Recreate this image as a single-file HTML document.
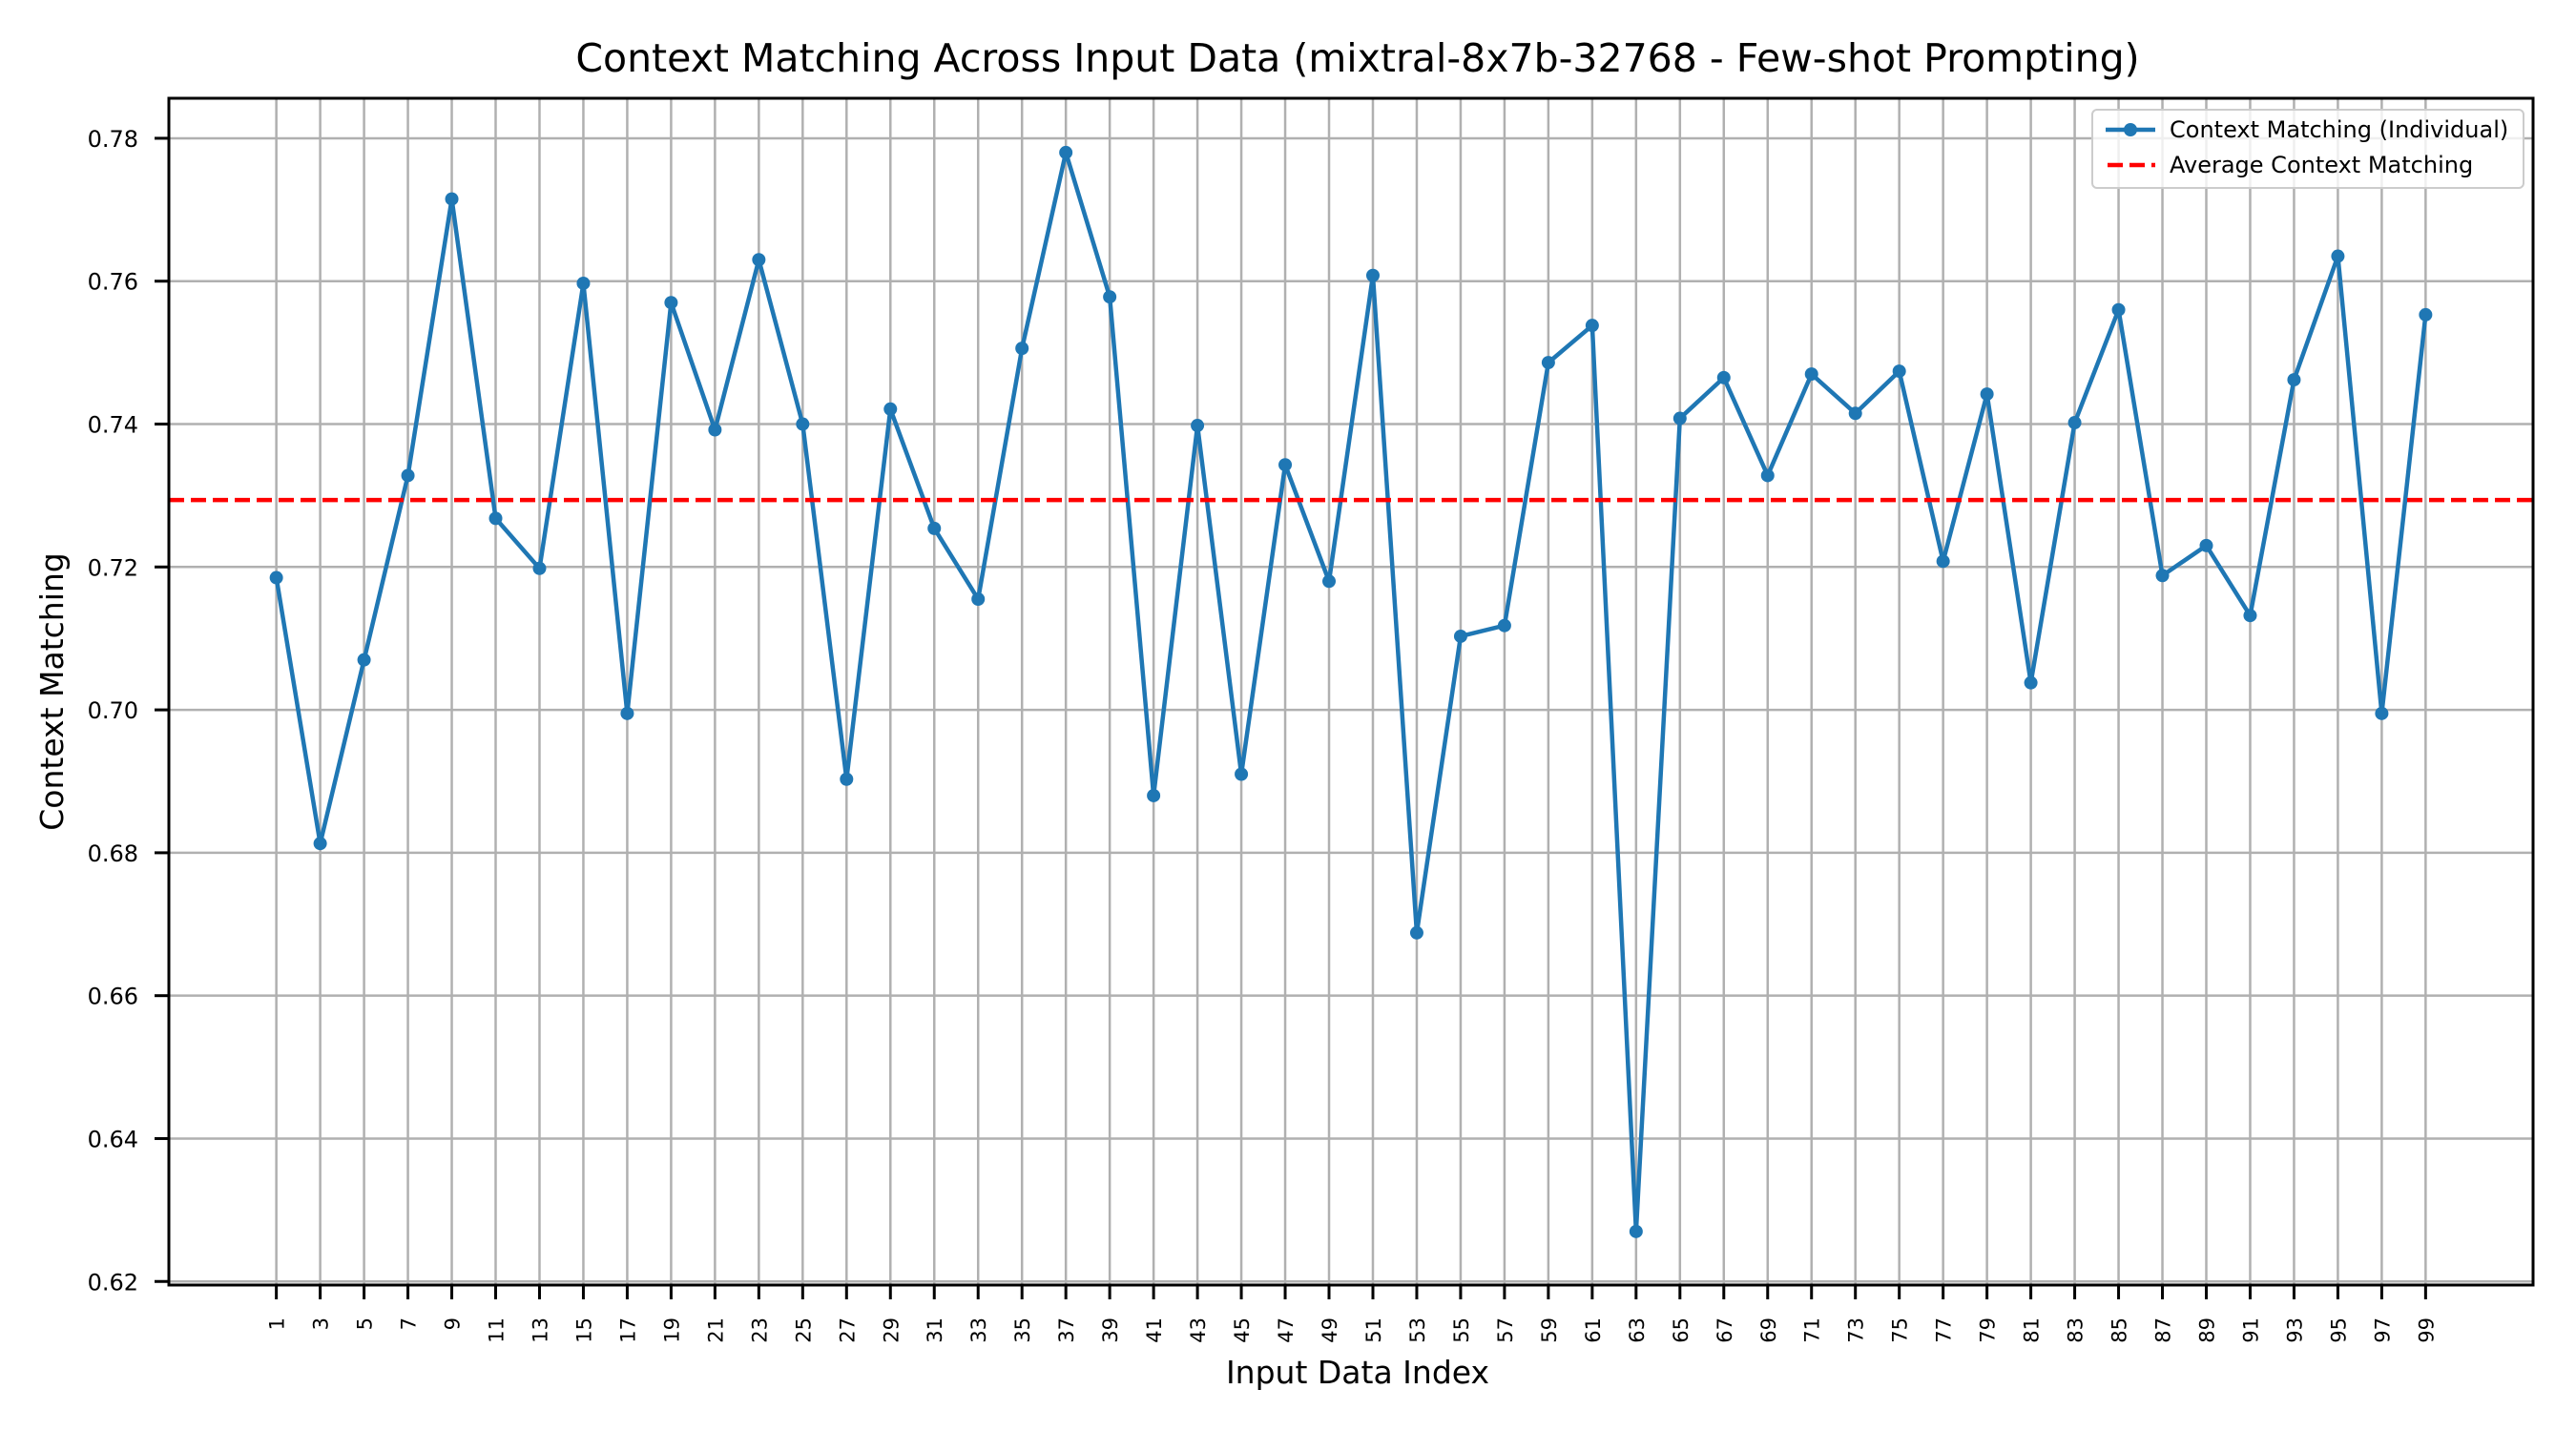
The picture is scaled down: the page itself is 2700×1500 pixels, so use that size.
<!DOCTYPE html>
<html><head><meta charset="utf-8"><style>
html,body{margin:0;padding:0;background:#fff;}
svg{display:block;font-family:"DejaVu Sans","Liberation Sans",sans-serif;}
</style></head><body>
<svg id="chart" width="2700" height="1500" viewBox="0 0 2700 1500">
<rect width="2700" height="1500" fill="#fff"/>
<text x="1423" y="75" font-size="41" text-anchor="middle" fill="#000">Context Matching Across Input Data (mixtral-8x7b-32768 - Few-shot Prompting)</text>
<g id="grid"></g>
<g id="series"></g>
<rect x="177" y="103" width="2478" height="1244" fill="none" stroke="#000" stroke-width="3"/>
<g id="ticks"></g>
<text x="1423" y="1450" font-size="33" text-anchor="middle">Input Data Index</text>
<text transform="translate(66,725) rotate(-90)" font-size="33" text-anchor="middle">Context Matching</text>
<g>
<rect x="2193" y="115" width="452" height="82" rx="5" fill="#fff" fill-opacity="0.8" stroke="#ccc" stroke-width="2"/>
<line x1="2207" y1="136" x2="2259" y2="136" stroke="#1f77b4" stroke-width="4.5"/>
<circle cx="2233" cy="136" r="7" fill="#1f77b4"/>
<text x="2274" y="144" font-size="24">Context Matching (Individual)</text>
<line x1="2209" y1="173" x2="2259" y2="173" stroke="#ff0000" stroke-width="4.5" stroke-dasharray="16,7"/>
<text x="2274" y="181" font-size="24">Average Context Matching</text>
</g>
</svg>
<script>
const xValues = [1,3,5,7,9,11,13,15,17,19,21,23,25,27,29,31,33,35,37,39,41,43,45,47,49,51,53,55,57,59,61,63,65,67,69,71,73,75,77,79,81,83,85,87,89,91,93,95,97,99];
const contextValues = [0.7185,0.6813,0.707,0.7328,0.7715,0.7268,0.7198,0.7597,0.6995,0.757,0.7392,0.763,0.740,0.6903,0.7421,0.7254,0.7155,0.7506,0.778,0.7578,0.688,0.7398,0.691,0.7343,0.718,0.7608,0.6688,0.7103,0.7118,0.7486,0.7538,0.627,0.7408,0.7465,0.7328,0.747,0.7415,0.7474,0.7208,0.7442,0.7038,0.7402,0.756,0.7188,0.723,0.7132,0.7462,0.7635,0.6995,0.7553];
const yTicks = [0.62,0.64,0.66,0.68,0.70,0.72,0.74,0.76,0.78];
const yTickLabels = ["0.62","0.64","0.66","0.68","0.70","0.72","0.74","0.76","0.78"];
const averageValue = contextValues.reduce((a,b)=>a+b,0)/contextValues.length;

const NS="http://www.w3.org/2000/svg";
const L=177,R=2655,T=103,B=1347;
const xMin=-3.9,xMax=103.9,yMin=0.6195,yMax=0.7856;
const xs=v=>L+(v-xMin)/(xMax-xMin)*(R-L);
const ys=v=>B-(v-yMin)/(yMax-yMin)*(B-T);
function mk(tag,attrs,parent){const e=document.createElementNS(NS,tag);for(const k in attrs)e.setAttribute(k,attrs[k]);parent.appendChild(e);return e;}
const grid=document.getElementById('grid'),ticks=document.getElementById('ticks'),series=document.getElementById('series');
xValues.forEach(v=>{
  const x=xs(v);
  const g=mk('line',{x1:x,x2:x,y1:T,y2:B,stroke:'#b0b0b0','stroke-width':2.5},grid);
  
  
  const t=mk('line',{x1:x,x2:x,y1:B,y2:B+15,stroke:'#000','stroke-width':3},ticks);
  
  
  const lb=mk('text',{transform:`translate(${x+8},${B+34}) rotate(-90)`,'font-size':21,'text-anchor':'end'},ticks);
  lb.textContent=String(v);
  
  
});
yTicks.forEach((v,i)=>{
  const y=ys(v);
  const g=mk('line',{x1:L,x2:R,y1:y,y2:y,stroke:'#b0b0b0','stroke-width':2.5},grid);
  
  
  const t=mk('line',{x1:L-15,x2:L,y1:y,y2:y,stroke:'#000','stroke-width':3},ticks);
  
  
  const lb=mk('text',{x:L-32,y:y+9,'font-size':24,'text-anchor':'end'},ticks);
  lb.textContent=yTickLabels[i];
  
  
});
const pts=xValues.map((v,i)=>xs(v)+','+ys(contextValues[i])).join(' ');
const pl=mk('polyline',{points:pts,fill:'none',stroke:'#1f77b4','stroke-width':4.5,'stroke-linejoin':'round'},series);


xValues.forEach((v,i)=>{
  const c=mk('circle',{cx:xs(v),cy:ys(contextValues[i]),r:7,fill:'#1f77b4'},series);
  
  
});
const avg=mk('line',{x1:L,x2:R,y1:ys(averageValue),y2:ys(averageValue),stroke:'#ff0000','stroke-width':4.5,'stroke-dasharray':'16,7'},series);


</script>
</body></html>
